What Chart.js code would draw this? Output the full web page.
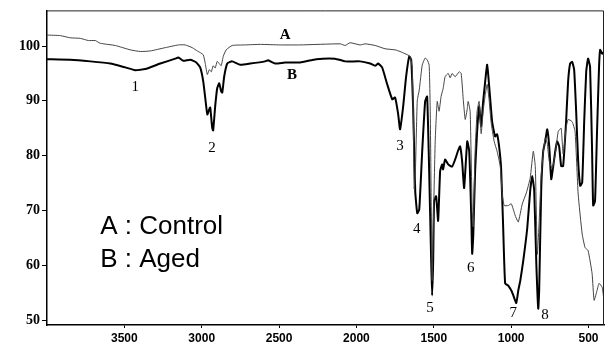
<!DOCTYPE html>
<html>
<head>
<meta charset="utf-8">
<script src="https://cdn.jsdelivr.net/npm/chart.js@4.4.1/dist/chart.umd.min.js"></script>
<style>
  html, body { margin: 0; padding: 0; background: #fff; }
  #spectrum { display: block; }
</style>
</head>
<body>
<canvas id="spectrum" width="606" height="347"></canvas>
<script>
// FT-IR spectra, transmittance (%) against wavenumber (cm-1)
const controlWavenumber = [
  4000, 3914, 3850, 3785, 3733, 3688, 3656, 3559, 3462, 3397, 3333, 3236, 3151, 3107, 3061, 3029,
  3010, 2990, 2977, 2964, 2951, 2938, 2926, 2913, 2900, 2887, 2874, 2861, 2842, 2803, 2719, 2622,
  2493, 2364, 2105, 2073, 2041, 1976, 1944, 1879, 1815, 1750, 1718, 1686, 1653, 1640, 1633, 1627,
  1620, 1607, 1594, 1575, 1556, 1543, 1530, 1523, 1517, 1511, 1504, 1491, 1478, 1466, 1453, 1440,
  1427, 1407, 1394, 1382, 1362, 1336, 1323, 1310, 1297, 1284, 1278, 1265, 1252, 1245, 1233, 1220,
  1207, 1194, 1181, 1168, 1155, 1142, 1130, 1110, 1091, 1071, 1058, 1045, 1019, 999, 973, 954,
  928, 902, 877, 857, 844, 831, 819, 806, 793, 780, 767, 754, 735, 715, 696, 677,
  664, 645, 632, 606, 587, 567, 541, 522, 503, 477, 464, 445, 432, 412, 400
];
const controlTransmittance = [
  102.0, 101.9, 101.5, 101.4, 101.0, 101.0, 100.5, 100.1, 99.3, 99.0, 99.1, 99.7, 100.2, 100.2, 99.7, 99.1,
  98.8, 98.4, 96.8, 94.8, 95.7, 95.3, 96.4, 96.0, 97.2, 96.8, 96.4, 98.1, 99.3, 100.1, 100.2, 100.3,
  100.2, 100.2, 100.4, 100.1, 100.6, 100.2, 100.4, 100.1, 99.5, 99.3, 99.0, 98.6, 98.1, 96.0, 88.0, 74.0,
  76.0, 90.0, 92.0, 96.5, 97.8, 97.5, 96.5, 88.0, 72.0, 57.2, 66.0, 82.6, 89.9, 88.1, 90.8, 92.2,
  94.4, 95.0, 94.2, 95.0, 94.4, 95.3, 95.0, 90.4, 86.6, 88.5, 89.9, 88.0, 70.0, 67.0, 80.8, 88.1,
  89.9, 84.0, 88.1, 91.0, 93.0, 90.0, 86.2, 82.6, 80.8, 78.1, 73.0, 70.9, 70.9, 71.2, 69.0, 67.9,
  71.2, 73.2, 75.9, 80.8, 78.0, 62.0, 68.0, 76.5, 80.3, 83.2, 82.3, 79.0, 77.7, 80.3, 84.4, 85.0,
  80.3, 85.0, 86.6, 86.2, 84.4, 73.0, 65.7, 63.2, 62.7, 58.5, 53.6, 55.4, 56.7, 56.0, 53.6
];

const agedWavenumber = [
  4000, 3850, 3720, 3591, 3494, 3430, 3365, 3268, 3171, 3151, 3119, 3074, 3035, 3010, 2990, 2971,
  2964, 2951, 2945, 2932, 2926, 2913, 2900, 2887, 2874, 2867, 2855, 2835, 2803, 2751, 2687, 2590,
  2570, 2525, 2460, 2364, 2260, 2139, 2073, 1976, 1911, 1879, 1860, 1834, 1801, 1769, 1750, 1731,
  1718, 1698, 1679, 1659, 1646, 1633, 1620, 1607, 1594, 1575, 1556, 1543, 1530, 1517, 1511, 1504,
  1498, 1485, 1472, 1459, 1446, 1440, 1427, 1407, 1382, 1362, 1343, 1330, 1317, 1304, 1284, 1271,
  1258, 1252, 1245, 1233, 1220, 1207, 1194, 1181, 1168, 1155, 1142, 1123, 1104, 1091, 1078, 1065,
  1052, 1039, 1019, 999, 986, 967, 954, 941, 922, 896, 877, 864, 851, 838, 825, 819,
  806, 793, 780, 767, 754, 741, 728, 715, 703, 690, 677, 664, 645, 632, 619, 606,
  593, 580, 567, 554, 541, 528, 515, 503, 490, 477, 470, 458, 445, 432, 425, 412, 400
];
const agedTransmittance = [
  97.6, 97.5, 97.2, 96.8, 96.1, 95.6, 95.8, 96.8, 97.7, 97.9, 97.3, 97.5, 97.0, 96.1, 93.5, 89.0,
  87.5, 88.5, 88.8, 85.0, 84.6, 89.0, 92.3, 93.2, 91.7, 91.5, 94.4, 96.8, 97.2, 96.6, 96.8, 97.2,
  97.4, 96.8, 97.0, 97.0, 97.6, 97.7, 97.2, 97.2, 96.8, 96.4, 96.8, 96.1, 93.0, 90.3, 90.6, 87.7,
  84.8, 89.0, 94.4, 98.1, 97.5, 88.1, 73.5, 69.5, 70.2, 80.8, 89.9, 90.8, 77.2, 60.8, 54.5, 60.8,
  71.7, 72.6, 68.1, 77.2, 78.4, 77.5, 79.3, 78.4, 78.0, 79.3, 80.9, 81.7, 79.0, 74.1, 82.6, 80.8,
  69.0, 62.1, 65.4, 77.2, 84.4, 89.0, 85.4, 89.9, 93.5, 96.6, 92.6, 86.2, 83.5, 83.9, 81.7, 77.7,
  67.2, 56.7, 56.3, 55.4, 54.5, 53.1, 55.4, 57.2, 60.8, 66.8, 73.6, 76.3, 73.6, 60.8, 52.1, 55.4,
  73.6, 80.8, 82.6, 84.8, 81.7, 75.7, 78.1, 80.8, 82.6, 81.7, 78.1, 78.1, 86.2, 93.5, 96.8, 97.1,
  95.7, 88.1, 79.0, 74.5, 75.1, 86.2, 95.3, 97.7, 96.2, 80.8, 70.9, 71.7, 84.4, 96.2, 99.3, 98.6, 99.0
];

const xTicks = [3500, 3000, 2500, 2000, 1500, 1000, 500];
const yTicks = [50, 60, 70, 80, 90, 100];

// numbered absorption bands and the curve names, placed in data units
const bandLabels = ['1', '2', '3', '4', '5', '6', '7', '8'];
const bandWavenumber = [3430, 2934, 1718, 1610, 1524, 1261, 986, 781];
const bandTransmittance = [92.6, 81.4, 81.7, 66.6, 52.1, 59.4, 51.2, 50.9];
const curveNames = ['A', 'B'];
const curveNameWavenumber = [2461, 2417];
const curveNameTransmittance = [102.0, 94.6];
const legendLines = ['A : Control', 'B : Aged'];

function toPoints(xs, ys) {
  return xs.map((v, i) => ({ x: v, y: ys[i] }));
}

const annotations = {
  id: 'annotations',
  afterDatasetsDraw(chart) {
    const { ctx, chartArea, scales: { x, y } } = chart;
    ctx.save();

    // plot frame, top and right sides
    ctx.strokeStyle = '#222';
    ctx.lineWidth = 1;
    ctx.beginPath();
    ctx.moveTo(chartArea.left, chartArea.top + 0.5);
    ctx.lineTo(chartArea.right - 0.5, chartArea.top + 0.5);
    ctx.lineTo(chartArea.right - 0.5, chartArea.bottom);
    ctx.stroke();

    ctx.fillStyle = '#000';
    ctx.textAlign = 'center';
    ctx.textBaseline = 'middle';
    ctx.font = '15px "Liberation Serif", "Times New Roman", serif';
    bandLabels.forEach((t, i) => {
      ctx.fillText(t, x.getPixelForValue(bandWavenumber[i]), y.getPixelForValue(bandTransmittance[i]));
    });

    ctx.font = 'bold 15px "Liberation Serif", "Times New Roman", serif';
    curveNames.forEach((t, i) => {
      ctx.fillText(t, x.getPixelForValue(curveNameWavenumber[i]), y.getPixelForValue(curveNameTransmittance[i]));
    });

    ctx.textAlign = 'left';
    ctx.textBaseline = 'alphabetic';
    ctx.font = '26px "Liberation Sans", Arial, sans-serif';
    const lx = x.getPixelForValue(3656);
    ctx.fillText(legendLines[0], lx, y.getPixelForValue(65.7));
    ctx.fillText(legendLines[1], lx, y.getPixelForValue(59.7));

    ctx.restore();
  }
};

new Chart(document.getElementById('spectrum'), {
  type: 'line',
  data: {
    datasets: [
      {
        label: 'Control',
        data: toPoints(controlWavenumber, controlTransmittance),
        borderColor: '#444',
        borderWidth: 1,
        pointRadius: 0,
        tension: 0.15,
        fill: false
      },
      {
        label: 'Aged',
        data: toPoints(agedWavenumber, agedTransmittance),
        borderColor: '#000',
        borderWidth: 2,
        pointRadius: 0,
        tension: 0.15,
        fill: false
      }
    ]
  },
  options: {
    responsive: false,
    devicePixelRatio: 1,
    animation: false,
    layout: { padding: { top: 8, right: 2, left: 0, bottom: 0 } },
    plugins: {
      legend: { display: false },
      tooltip: { enabled: false }
    },
    scales: {
      x: {
        type: 'linear',
        reverse: true,
        min: 400,
        max: 4000,
        afterBuildTicks: scale => { scale.ticks = xTicks.map(v => ({ value: v })); },
        afterFit: scale => { scale.height = 22; },
        grid: { display: true, drawOnChartArea: false, tickLength: 3, color: '#000' },
        border: { display: true, color: '#000', width: 1.5 },
        ticks: {
          color: '#000',
          padding: 3,
          maxRotation: 0,
          autoSkip: false,
          callback: v => String(v),
          font: { family: '"Liberation Sans", Arial, sans-serif', size: 12, weight: 'bold' }
        }
      },
      y: {
        min: 49.1,
        max: 106.5,
        afterBuildTicks: scale => { scale.ticks = yTicks.map(v => ({ value: v })); },
        afterFit: scale => { scale.width = 47; },
        grid: { display: true, drawOnChartArea: false, tickLength: 5, color: '#000' },
        border: { display: true, color: '#000', width: 1.5 },
        ticks: {
          color: '#000',
          padding: 2,
          callback: v => String(v),
          font: { family: '"Liberation Serif", "Times New Roman", serif', size: 14, weight: 'bold' }
        }
      }
    }
  },
  plugins: [annotations]
});
</script>
</body>
</html>
